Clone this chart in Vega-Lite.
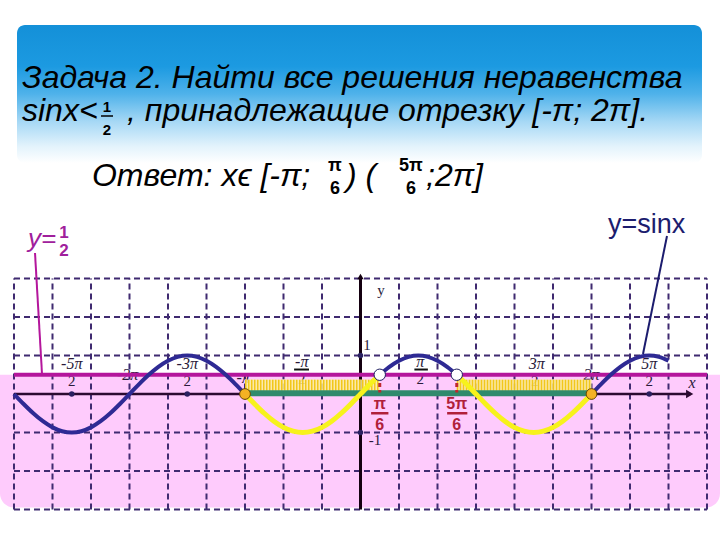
{
"$schema": "https://vega.github.io/schema/vega-lite/v6.json",
"width": 720, "height": 540, "autosize": {"type": "none"}, "padding": 0,
"background": "white",
"config": {"view": {"stroke": null}},
"datasets": {
"curve": [
{"x":-36,"y":0,"s":"b1"},{"x":-35,"y":-0.2588,"s":"b1"},{"x":-34,"y":-0.5,"s":"b1"},{"x":-33,"y":-0.7071,"s":"b1"},{"x":-32,"y":-0.866,"s":"b1"},{"x":-31,"y":-0.9659,"s":"b1"},{"x":-30,"y":-1,"s":"b1"},{"x":-29,"y":-0.9659,"s":"b1"},{"x":-28,"y":-0.866,"s":"b1"},{"x":-27,"y":-0.7071,"s":"b1"},{"x":-26,"y":-0.5,"s":"b1"},{"x":-25,"y":-0.2588,"s":"b1"},{"x":-24,"y":0,"s":"b1"},{"x":-23,"y":0.2588,"s":"b1"},{"x":-22,"y":0.5,"s":"b1"},{"x":-21,"y":0.7071,"s":"b1"},{"x":-20,"y":0.866,"s":"b1"},{"x":-19,"y":0.9659,"s":"b1"},{"x":-18,"y":1,"s":"b1"},{"x":-17,"y":0.9659,"s":"b1"},{"x":-16,"y":0.866,"s":"b1"},{"x":-15,"y":0.7071,"s":"b1"},{"x":-14,"y":0.5,"s":"b1"},{"x":-13,"y":0.2588,"s":"b1"},{"x":-12,"y":0,"s":"b1"},
{"x":-12,"y":0,"s":"y1"},{"x":-11,"y":-0.2588,"s":"y1"},{"x":-10,"y":-0.5,"s":"y1"},{"x":-9,"y":-0.7071,"s":"y1"},{"x":-8,"y":-0.866,"s":"y1"},{"x":-7,"y":-0.9659,"s":"y1"},{"x":-6,"y":-1,"s":"y1"},{"x":-5,"y":-0.9659,"s":"y1"},{"x":-4,"y":-0.866,"s":"y1"},{"x":-3,"y":-0.7071,"s":"y1"},{"x":-2,"y":-0.5,"s":"y1"},{"x":-1,"y":-0.2588,"s":"y1"},{"x":0,"y":0,"s":"y1"},{"x":1,"y":0.2588,"s":"y1"},{"x":2,"y":0.5,"s":"y1"},
{"x":2,"y":0.5,"s":"b2"},{"x":3,"y":0.7071,"s":"b2"},{"x":4,"y":0.866,"s":"b2"},{"x":5,"y":0.9659,"s":"b2"},{"x":6,"y":1,"s":"b2"},{"x":7,"y":0.9659,"s":"b2"},{"x":8,"y":0.866,"s":"b2"},{"x":9,"y":0.7071,"s":"b2"},{"x":10,"y":0.5,"s":"b2"},
{"x":10,"y":0.5,"s":"y2"},{"x":11,"y":0.2588,"s":"y2"},{"x":12,"y":0,"s":"y2"},{"x":13,"y":-0.2588,"s":"y2"},{"x":14,"y":-0.5,"s":"y2"},{"x":15,"y":-0.7071,"s":"y2"},{"x":16,"y":-0.866,"s":"y2"},{"x":17,"y":-0.9659,"s":"y2"},{"x":18,"y":-1,"s":"y2"},{"x":19,"y":-0.9659,"s":"y2"},{"x":20,"y":-0.866,"s":"y2"},{"x":21,"y":-0.7071,"s":"y2"},{"x":22,"y":-0.5,"s":"y2"},{"x":23,"y":-0.2588,"s":"y2"},{"x":24,"y":0,"s":"y2"},
{"x":24,"y":0,"s":"b3"},{"x":25,"y":0.2588,"s":"b3"},{"x":26,"y":0.5,"s":"b3"},{"x":27,"y":0.7071,"s":"b3"},{"x":28,"y":0.866,"s":"b3"},{"x":29,"y":0.9659,"s":"b3"},{"x":30,"y":1,"s":"b3"},{"x":31,"y":0.9659,"s":"b3"},{"x":32,"y":0.866,"s":"b3"}
],
"rules": [
{"x":-36,"y":-3,"x2":-36,"y2":3,"k":"grid"},{"x":-32,"y":-3,"x2":-32,"y2":3,"k":"grid"},{"x":-28,"y":-3,"x2":-28,"y2":3,"k":"grid"},{"x":-24,"y":-3,"x2":-24,"y2":3,"k":"grid"},{"x":-20,"y":-3,"x2":-20,"y2":3,"k":"grid"},{"x":-16,"y":-3,"x2":-16,"y2":3,"k":"grid"},{"x":-12,"y":-3,"x2":-12,"y2":3,"k":"grid"},{"x":-8,"y":-3,"x2":-8,"y2":3,"k":"grid"},{"x":-4,"y":-3,"x2":-4,"y2":3,"k":"grid"},
{"x":4,"y":-3,"x2":4,"y2":3,"k":"grid"},{"x":8,"y":-3,"x2":8,"y2":3,"k":"grid"},{"x":12,"y":-3,"x2":12,"y2":3,"k":"grid"},{"x":16,"y":-3,"x2":16,"y2":3,"k":"grid"},{"x":20,"y":-3,"x2":20,"y2":3,"k":"grid"},{"x":24,"y":-3,"x2":24,"y2":3,"k":"grid"},{"x":28,"y":-3,"x2":28,"y2":3,"k":"grid"},{"x":32,"y":-3,"x2":32,"y2":3,"k":"grid"},{"x":36,"y":-3,"x2":36,"y2":3,"k":"grid"},
{"x":-36,"y":-3,"x2":36,"y2":-3,"k":"grid"},{"x":-36,"y":-2,"x2":36,"y2":-2,"k":"grid"},{"x":-36,"y":-1,"x2":36,"y2":-1,"k":"grid"},{"x":-36,"y":1,"x2":36,"y2":1,"k":"grid"},{"x":-36,"y":2,"x2":36,"y2":2,"k":"grid"},{"x":-36,"y":3,"x2":36,"y2":3,"k":"grid"},
{"x":-36,"y":0,"x2":34.3,"y2":0,"k":"xaxis"},
{"x":0,"y":-3,"x2":0,"y2":3,"k":"yaxis"},
{"x":-36,"y":0.5,"x2":36,"y2":0.5,"k":"half"},
{"x":-12,"y":0.23,"x2":2,"y2":0.23,"k":"stripe"},{"x":10,"y":0.23,"x2":24,"y2":0.23,"k":"stripe"},
{"x":-12,"y":0.02,"x2":24,"y2":0.02,"k":"green"},
{"x":2,"y":0.47,"x2":2,"y2":0.04,"k":"reddash"},{"x":10,"y":0.47,"x2":10,"y2":0.04,"k":"reddash"},
{"x":-6.9,"y":0.636,"x2":-5.35,"y2":0.636,"k":"tbar"},{"x":5.6,"y":0.636,"x2":7.0,"y2":0.636,"k":"tbar"},
{"x":1.1,"y":-0.5,"x2":2.9,"y2":-0.5,"k":"rbar"},{"x":9.0,"y":-0.5,"x2":11.1,"y2":-0.5,"k":"rbar"},
{"x":-26.96,"y":7.221,"x2":-25.71,"y2":7.221,"k":"bar"},
{"x":-33.818,"y":3.662,"x2":-33.09,"y2":0.519,"k":"callm"},
{"x":31.844,"y":4.104,"x2":29.35,"y2":1.039,"k":"calln"}
],
"rects": [
{"x":-35.688,"y":6.0,"x2":35.48,"y2":9.584,"k":"banner"},
{"x":-37.4545,"y":-2.95,"x2":37.3506,"y2":0.5,"k":"pink"},
{"x":-12,"y":0.08,"x2":2,"y2":0.38,"k":"hatch"},{"x":10,"y":0.08,"x2":24,"y2":0.38,"k":"hatch"}
],
"pts": [
{"x":2,"y":0.5,"k":"open"},{"x":10,"y":0.5,"k":"open"},
{"x":-12,"y":0,"k":"orange"},{"x":24,"y":0,"k":"orange"},
{"x":-30,"y":0,"k":"dot"},{"x":-18,"y":0,"k":"dot"},{"x":30,"y":0,"k":"dot"},{"x":0,"y":1,"k":"dot"},{"x":0,"y":-1,"k":"dot"},
{"x":34.2,"y":0,"k":"arrowR"},{"x":0,"y":3.05,"k":"arrowU"}
],
"texts": [
{"x":-35.169,"y":7.948,"t":"Задача 2. Найти все решения неравенства","k":"title"},
{"x":-35.169,"y":7.091,"t":"sinx<","k":"title"},
{"x":-24.26,"y":7.091,"t":", принадлежащие отрезку [-π; 2π].","k":"title"},
{"x":-27.9,"y":5.403,"t":"Ответ: xϵ [-π;","k":"title"},
{"x":-1.506,"y":5.403,"t":") (","k":"title"},
{"x":6.805,"y":5.403,"t":";2π]","k":"title"},
{"x":-26.338,"y":7.325,"t":"1","k":"tfrac"},{"x":-26.338,"y":6.727,"t":"2","k":"tfrac"},
{"x":-2.65,"y":5.792,"t":"π","k":"afrac"},{"x":-2.65,"y":5.195,"t":"6","k":"afrac"},{"x":5.247,"y":5.792,"t":"5π","k":"afrac"},{"x":5.247,"y":5.195,"t":"6","k":"afrac"},
{"x":-34.545,"y":3.818,"t":"y=","k":"ylab"},
{"x":-30.8,"y":4.052,"t":"1","k":"yfrac"},{"x":-30.8,"y":3.584,"t":"2","k":"yfrac"},
{"x":25.714,"y":4.182,"t":"y=sinx","k":"sinlab"},
{"x":-30,"y":0.649,"t":"-5π","k":"tickn"},{"x":-24.2,"y":0.36,"t":"-2π","k":"tickn"},{"x":-18,"y":0.649,"t":"-3π","k":"tickn"},{"x":-12.2,"y":0.286,"t":"-π","k":"tickn"},{"x":-6.1,"y":0.701,"t":"-π","k":"tickn"},{"x":6.2,"y":0.701,"t":"π","k":"tickn"},{"x":18.3,"y":0.649,"t":"3π","k":"tickn"},{"x":24,"y":0.36,"t":"2π","k":"tickn"},{"x":30,"y":0.649,"t":"5π","k":"tickn"},{"x":34.44,"y":0.156,"t":"x","k":"tickn"},
{"x":-30,"y":0.208,"t":"2","k":"tickd"},{"x":-18,"y":0.208,"t":"2","k":"tickd"},{"x":-6.1,"y":0.26,"t":"2","k":"tickd"},{"x":6.2,"y":0.26,"t":"2","k":"tickd"},{"x":18.1,"y":0.208,"t":"2","k":"tickd"},{"x":30,"y":0.208,"t":"2","k":"tickd"},{"x":2.13,"y":2.571,"t":"y","k":"tickd"},{"x":0.675,"y":1.143,"t":"1","k":"tickd"},{"x":1.506,"y":-1.325,"t":"-1","k":"tickd"},
{"x":2,"y":-0.39,"t":"π","k":"red"},{"x":2,"y":-0.935,"t":"6","k":"red"},{"x":10,"y":-0.39,"t":"5π","k":"red"},{"x":10,"y":-0.935,"t":"6","k":"red"}
]
},
"encoding": {
"x": {"field":"x","type":"quantitative","scale":{"domain":[-37.4545,37.3506],"nice":false,"zero":false},"axis":null},
"y": {"field":"y","type":"quantitative","scale":{"domain":[-3.792,10.234],"nice":false,"zero":false},"axis":null}
},
"layer": [
{"data":{"name":"rects"},"transform":[{"filter":"datum.k=='banner'"}],
 "mark":{"type":"rect","cornerRadius":8,"stroke":null,"fill":{"gradient":"linear","x1":0,"y1":0,"x2":0,"y2":1,"stops":[{"offset":0,"color":"#1490d8"},{"offset":0.3,"color":"#1c9ae1"},{"offset":0.5,"color":"#4fb2ea"},{"offset":0.7,"color":"#a6d8f5"},{"offset":0.88,"color":"#e3f3fc"},{"offset":1,"color":"#ffffff"}]}},
 "encoding":{"x2":{"field":"x2"},"y2":{"field":"y2"}}},
{"data":{"name":"rects"},"transform":[{"filter":"datum.k=='pink'"}],
 "mark":{"type":"rect","fill":"#fecbfc","stroke":null,"cornerRadiusBottomLeft":14,"cornerRadiusBottomRight":14},
 "encoding":{"x2":{"field":"x2"},"y2":{"field":"y2"}}},
{"data":{"name":"rules"},"transform":[{"filter":"datum.k=='grid'"}],
 "mark":{"type":"rule","stroke":"#3f2a70","strokeWidth":2,"strokeDash":[6,4]},
 "encoding":{"x2":{"field":"x2"},"y2":{"field":"y2"}}},
{"data":{"name":"rules"},"transform":[{"filter":"datum.k=='xaxis'"}],
 "mark":{"type":"rule","stroke":"#2b0a30","strokeWidth":2.5},
 "encoding":{"x2":{"field":"x2"},"y2":{"field":"y2"}}},
{"data":{"name":"rules"},"transform":[{"filter":"datum.k=='yaxis'"}],
 "mark":{"type":"rule","stroke":"#140010","strokeWidth":3},
 "encoding":{"x2":{"field":"x2"},"y2":{"field":"y2"}}},
{"data":{"name":"pts"},"transform":[{"filter":"datum.k=='arrowR'"}],
 "mark":{"type":"point","shape":"triangle-right","filled":true,"fill":"#2b0a30","size":70,"opacity":1}},
{"data":{"name":"pts"},"transform":[{"filter":"datum.k=='arrowU'"}],
 "mark":{"type":"point","shape":"triangle-up","filled":true,"fill":"#140010","size":40,"opacity":1}},
{"data":{"name":"texts"},"transform":[{"filter":"datum.k=='tickn'"}],
 "mark":{"type":"text","font":"Liberation Serif","fontStyle":"italic","fontSize":16,"align":"center","baseline":"alphabetic","fill":"#2a1a3a"},
 "encoding":{"text":{"field":"t"}}},
{"data":{"name":"texts"},"transform":[{"filter":"datum.k=='tickd'"}],
 "mark":{"type":"text","font":"Liberation Serif","fontSize":15,"align":"center","baseline":"alphabetic","fill":"#2a1a3a"},
 "encoding":{"text":{"field":"t"}}},
{"data":{"name":"rules"},"transform":[{"filter":"datum.k=='tbar'"}],
 "mark":{"type":"rule","stroke":"#111111","strokeWidth":2},
 "encoding":{"x2":{"field":"x2"},"y2":{"field":"y2"}}},
{"data":{"name":"rules"},"transform":[{"filter":"datum.k=='half'"}],
 "mark":{"type":"rule","stroke":"#b4169c","strokeWidth":4},
 "encoding":{"x2":{"field":"x2"},"y2":{"field":"y2"}}},
{"data":{"name":"rects"},"transform":[{"filter":"datum.k=='hatch'"}],
 "mark":{"type":"rect","fill":"#fcef9c","stroke":null,"opacity":0.85},
 "encoding":{"x2":{"field":"x2"},"y2":{"field":"y2"}}},
{"data":{"name":"rules"},"transform":[{"filter":"datum.k=='stripe'"}],
 "mark":{"type":"rule","stroke":"#f0c30c","strokeWidth":11,"strokeDash":[1.5,1.5],"opacity":0.9},
 "encoding":{"x2":{"field":"x2"},"y2":{"field":"y2"}}},
{"data":{"name":"rules"},"transform":[{"filter":"datum.k=='green'"}],
 "mark":{"type":"rule","stroke":"#2f8a6c","strokeWidth":6},
 "encoding":{"x2":{"field":"x2"},"y2":{"field":"y2"}}},
{"data":{"name":"curve"},"transform":[{"filter":"datum.s=='b1' || datum.s=='b2' || datum.s=='b3'"}],
 "mark":{"type":"line","stroke":"#2e2a94","strokeWidth":4,"interpolate":"monotone"},
 "encoding":{"detail":{"field":"s"}}},
{"data":{"name":"curve"},"transform":[{"filter":"datum.s=='y1' || datum.s=='y2'"}],
 "mark":{"type":"line","stroke":"#f7f21c","strokeWidth":5,"interpolate":"monotone"},
 "encoding":{"detail":{"field":"s"}}},
{"data":{"name":"rules"},"transform":[{"filter":"datum.k=='reddash'"}],
 "mark":{"type":"rule","stroke":"#c0282d","strokeWidth":3,"strokeDash":[4,3]},
 "encoding":{"x2":{"field":"x2"},"y2":{"field":"y2"}}},
{"data":{"name":"pts"},"transform":[{"filter":"datum.k=='open'"}],
 "mark":{"type":"point","shape":"circle","filled":true,"fill":"#ffffff","stroke":"#1e1e60","strokeWidth":1,"size":130,"opacity":1}},
{"data":{"name":"pts"},"transform":[{"filter":"datum.k=='orange'"}],
 "mark":{"type":"point","shape":"circle","filled":true,"fill":"#f4b223","stroke":"#6b4a00","strokeWidth":1,"size":115,"opacity":1}},
{"data":{"name":"pts"},"transform":[{"filter":"datum.k=='dot'"}],
 "mark":{"type":"point","shape":"circle","filled":true,"fill":"#2a2060","size":30,"opacity":1}},
{"data":{"name":"texts"},"transform":[{"filter":"datum.k=='red'"}],
 "mark":{"type":"text","font":"Liberation Sans","fontWeight":"bold","fontSize":16,"align":"center","baseline":"alphabetic","fill":"#b0203a"},
 "encoding":{"text":{"field":"t"}}},
{"data":{"name":"rules"},"transform":[{"filter":"datum.k=='rbar'"}],
 "mark":{"type":"rule","stroke":"#b0203a","strokeWidth":2.5},
 "encoding":{"x2":{"field":"x2"},"y2":{"field":"y2"}}},
{"data":{"name":"rules"},"transform":[{"filter":"datum.k=='callm'"}],
 "mark":{"type":"rule","stroke":"#b4169c","strokeWidth":2},
 "encoding":{"x2":{"field":"x2"},"y2":{"field":"y2"}}},
{"data":{"name":"rules"},"transform":[{"filter":"datum.k=='calln'"}],
 "mark":{"type":"rule","stroke":"#1c1c6e","strokeWidth":2},
 "encoding":{"x2":{"field":"x2"},"y2":{"field":"y2"}}},
{"data":{"name":"texts"},"transform":[{"filter":"datum.k=='title'"}],
 "mark":{"type":"text","font":"Liberation Sans","fontStyle":"italic","fontSize":32,"align":"left","baseline":"alphabetic","fill":"#000000"},
 "encoding":{"text":{"field":"t"}}},
{"data":{"name":"texts"},"transform":[{"filter":"datum.k=='tfrac'"}],
 "mark":{"type":"text","font":"Liberation Sans","fontWeight":"bold","fontSize":15,"align":"center","baseline":"alphabetic","fill":"#000000"},
 "encoding":{"text":{"field":"t"}}},
{"data":{"name":"texts"},"transform":[{"filter":"datum.k=='afrac'"}],
 "mark":{"type":"text","font":"Liberation Sans","fontWeight":"bold","fontSize":18,"align":"center","baseline":"alphabetic","fill":"#000000"},
 "encoding":{"text":{"field":"t"}}},
{"data":{"name":"rules"},"transform":[{"filter":"datum.k=='bar'"}],
 "mark":{"type":"rule","stroke":"#000000","strokeWidth":1.5},
 "encoding":{"x2":{"field":"x2"},"y2":{"field":"y2"}}},
{"data":{"name":"texts"},"transform":[{"filter":"datum.k=='ylab'"}],
 "mark":{"type":"text","font":"Liberation Sans","fontStyle":"italic","fontSize":26,"align":"left","baseline":"alphabetic","fill":"#a0209c"},
 "encoding":{"text":{"field":"t"}}},
{"data":{"name":"texts"},"transform":[{"filter":"datum.k=='yfrac'"}],
 "mark":{"type":"text","font":"Liberation Sans","fontWeight":"bold","fontSize":17,"align":"center","baseline":"alphabetic","fill":"#a0209c"},
 "encoding":{"text":{"field":"t"}}},
{"data":{"name":"texts"},"transform":[{"filter":"datum.k=='sinlab'"}],
 "mark":{"type":"text","font":"Liberation Sans","fontSize":27,"align":"left","baseline":"alphabetic","fill":"#1c1c6e"},
 "encoding":{"text":{"field":"t"}}}
]
}
